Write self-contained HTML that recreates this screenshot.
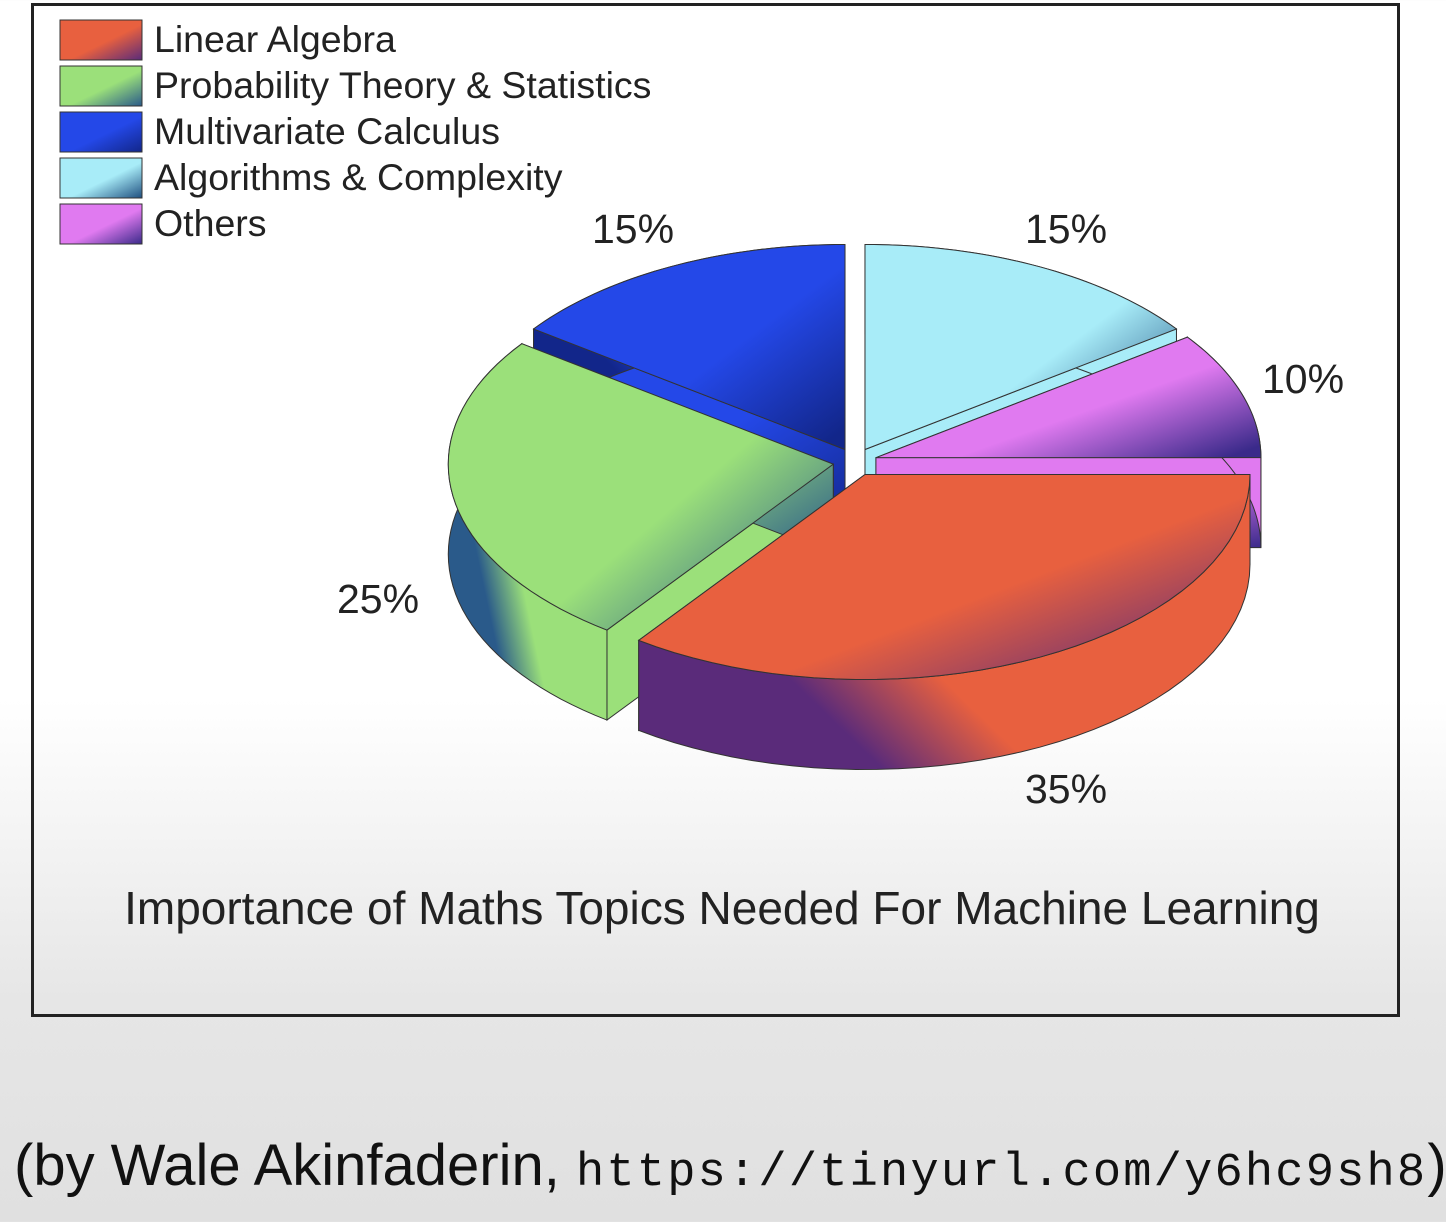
<!DOCTYPE html>
<html><head><meta charset="utf-8">
<style>
html,body{margin:0;padding:0;}
body{width:1446px;height:1222px;overflow:hidden;background:linear-gradient(#ffffff 0px,#ffffff 700px,#e6e6e6 1000px,#e0e0e0 1222px);font-family:"Liberation Sans",sans-serif;position:relative;}
#frame{position:absolute;left:31px;top:3px;width:1363px;height:1008px;border:3px solid #222;box-sizing:content-box;}
#credit{position:absolute;left:14px;top:1132px;font-family:"Liberation Sans",sans-serif;font-size:58px;color:#111;white-space:nowrap;}
#credit span{font-family:"Liberation Mono",monospace;font-size:47px;letter-spacing:2.2px;}
</style></head><body>
<div id="frame"></div>
<svg id="chart" width="1446" height="1222" style="position:absolute;left:0;top:0"></svg>
<div id="credit">(by Wale Akinfaderin, <span>https://tinyurl.com/y6hc9sh8</span>)</div>
<script>
const categories = ["Algorithms & Complexity","Others","Linear Algebra","Probability Theory & Statistics","Multivariate Calculus"];
const values = [15,10,35,25,15];
const legendOrder = ["Linear Algebra","Probability Theory & Statistics","Multivariate Calculus","Algorithms & Complexity","Others"];
const title = "Importance of Maths Topics Needed For Machine Learning";

const NS="http://www.w3.org/2000/svg";
const svg=document.getElementById('chart');
const cx=855, cy=462, rx=385, ry=205, depth=90, explode=22;
const colors={"Linear Algebra":["#e8603f","#5a2b7a"],"Probability Theory & Statistics":["#9be07a","#2a5a8a"],"Multivariate Calculus":["#2448e8","#12268a"],"Algorithms & Complexity":["#a8ecf8","#1f4f80"],"Others":["#e07af0","#3a2a8a"]};
function mk(tag,attrs){const e=document.createElementNS(NS,tag);for(const k in attrs)e.setAttribute(k,attrs[k]);return e;}
const defs=mk('defs',{});svg.appendChild(defs);
let gi=0;
function grad(c1,c2,x1,y1,x2,y2,mid){const id='g'+(gi++);const g=mk('linearGradient',{id:id,x1:x1,y1:y1,x2:x2,y2:y2});
g.appendChild(mk('stop',{offset:'0','stop-color':c1}));g.appendChild(mk('stop',{offset:mid||'0.55','stop-color':c1}));g.appendChild(mk('stop',{offset:'1','stop-color':c2}));defs.appendChild(g);return 'url(#'+id+')';}
function pt(ox,oy,a,f){return [ox+rx*f*Math.sin(a), oy-ry*f*Math.cos(a)];}
const total=values.reduce((a,b)=>a+b,0);
let start=0; const slices=[];
values.forEach((v,i)=>{const a0=start/total*2*Math.PI, a1=(start+v)/total*2*Math.PI; start+=v;
 const m=(a0+a1)/2; const ox=cx+explode*Math.sin(m), oy=cy-explode*Math.cos(m)*ry/rx*1.2;
 slices.push({i,a0,a1,m,ox,oy,name:categories[i],v});});
const order=slices.slice().sort((a,b)=>(-Math.cos(a.m))-(-Math.cos(b.m)));
order.forEach(s=>{
 const [c1,c2]=colors[s.name];
 const g=mk('g',{});
 
 
 const N=40, arc=[];
 for(let k=0;k<=N;k++){arc.push(pt(s.ox,s.oy,s.a0+(s.a1-s.a0)*k/N,1));}
 [s.a0,s.a1].forEach(a=>{const p=pt(s.ox,s.oy,a,1);
  const d=`M${s.ox},${s.oy} L${p[0]},${p[1]} L${p[0]},${p[1]+depth} L${s.ox},${s.oy+depth}Z`;
  g.appendChild(mk('path',{d:d,fill:grad(c1,c2,'0','0','1','1'),stroke:'#333','stroke-width':1}));});
 let d='M'+arc.map(p=>p[0]+','+p[1]).join(' L');
 d+=' L'+arc.slice().reverse().map(p=>p[0]+','+(p[1]+depth)).join(' L')+'Z';
 g.appendChild(mk('path',{d:d,fill:grad(c1,c2,'0.4','0','0','0.2','0.5'),stroke:'#333','stroke-width':1}));
 let t=`M${s.ox},${s.oy} L`+arc.map(p=>p[0]+','+p[1]).join(' L')+'Z';
 g.appendChild(mk('path',{d:t,fill:grad(c1,c2,'0.2','0.2','1','0.9','0.5'),stroke:'#333','stroke-width':1}));
 svg.appendChild(g);
});
const labelPos={"Algorithms & Complexity":[1066,243],"Others":[1303,393],"Linear Algebra":[1066,803],"Probability Theory & Statistics":[378,613],"Multivariate Calculus":[633,243]};
slices.forEach(s=>{const p=labelPos[s.name];
 const t=mk('text',{x:p[0],y:p[1],'font-size':41,'text-anchor':'middle',fill:'#222','font-family':'Liberation Sans, sans-serif'});
 
 
 t.textContent=s.v+'%'; svg.appendChild(t);});
legendOrder.forEach((n,k)=>{const y=20+k*46;const [c1,c2]=colors[n];
 const r=mk('rect',{x:60,y:y,width:82,height:40,fill:grad(c1,c2,'0','0','1','1'),stroke:'#333','stroke-width':1});
 
 
 svg.appendChild(r);
 const t=mk('text',{x:154,y:y+32,'font-size':37.5,fill:'#222','font-family':'Liberation Sans, sans-serif'});
 
 
 t.textContent=n;svg.appendChild(t);});
const tt=mk('text',{x:722,y:924,'font-size':46,'text-anchor':'middle',fill:'#222','font-family':'Liberation Sans, sans-serif'});


tt.textContent=title;svg.appendChild(tt);
</script>
</body></html>
